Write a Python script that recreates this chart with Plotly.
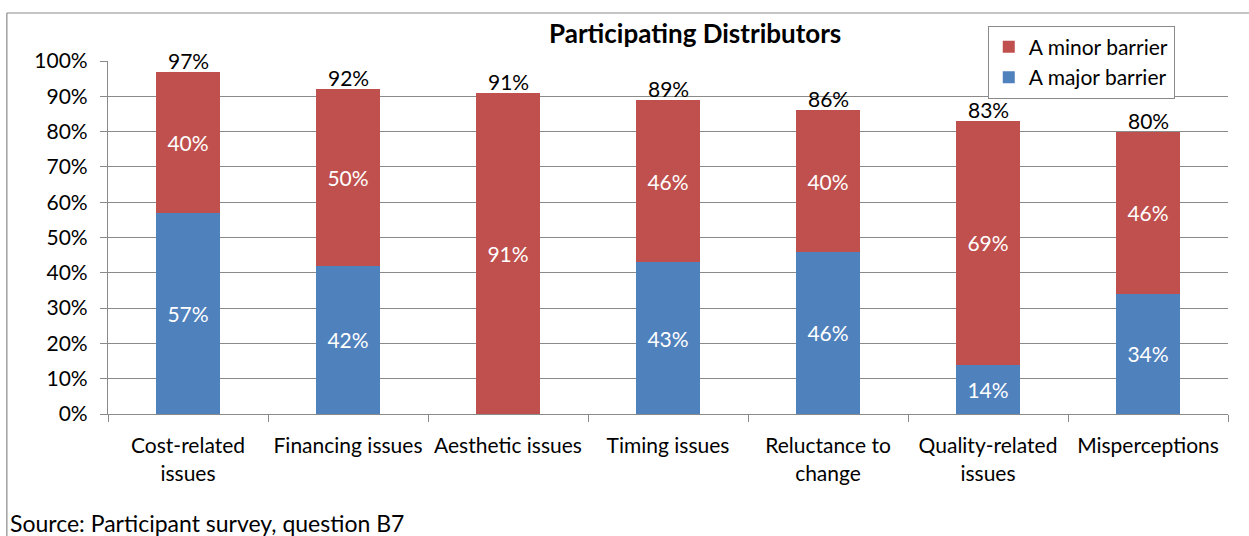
import plotly.graph_objects as go

categories = ["Cost-related<br>issues", "Financing issues", "Aesthetic issues", "Timing issues",
              "Reluctance to<br>change", "Quality-related<br>issues", "Misperceptions"]
major = [57, 42, 0, 43, 46, 14, 34]
minor = [40, 50, 91, 46, 40, 69, 46]
totals = [a + b for a, b in zip(major, minor)]

BLUE = "#4F81BD"
RED = "#C0504D"
GRID = "#8A8A8A"
FONT = "Lato, 'Open Sans', sans-serif"

def seg_text(vals):
    return [f"{v}%" if v > 0 else "" for v in vals]

fig = go.Figure()
fig.add_bar(x=categories, y=major, name="A major barrier", marker_color=BLUE,
            marker_line_width=0, text=seg_text(major), textposition="inside",
            insidetextanchor="middle", textfont=dict(color="white", size=21, family=FONT),
            constraintext="none")
fig.add_bar(x=categories, y=minor, name="A minor barrier", marker_color=RED,
            marker_line_width=0, text=seg_text(minor), textposition="inside",
            insidetextanchor="middle", textfont=dict(color="white", size=21, family=FONT),
            constraintext="none")

for c, t in zip(categories, totals):
    fig.add_annotation(x=c, y=t, text=f"{t}%", showarrow=False, yanchor="bottom",
                       yshift=-3, font=dict(size=21, color="black", family=FONT))

fig.add_annotation(xref="paper", yref="paper", x=0.524, y=1.0, yshift=28,
                   text="<b>Participating Distributors</b>",
                   showarrow=False, xanchor="center", yanchor="middle",
                   font=dict(size=26, color="black", family=FONT))
fig.add_annotation(xref="paper", yref="paper", x=-0.089, y=0, yshift=-109,
                   text="Source: Participant survey, question B7", showarrow=False,
                   xanchor="left", yanchor="middle", font=dict(size=23, color="black", family=FONT))

# frame around the chart
fig.add_shape(type="line", xref="paper", yref="paper", x0=-0.0903, x1=1.05, y0=1.136, y1=1.136,
              line=dict(color=GRID, width=1.2))
fig.add_shape(type="line", xref="paper", yref="paper", x0=-0.0903, x1=-0.0903, y0=1.136, y1=-0.4,
              line=dict(color=GRID, width=1.2))

fig.update_layout(
    width=1249, height=536,
    margin=dict(l=108, r=21, t=61, b=122),
    barmode="stack", bargap=0.606,
    plot_bgcolor="white", paper_bgcolor="white",
    font=dict(family=FONT, size=21, color="black"),
    legend=dict(traceorder="reversed", x=0.7855, y=1.1, xanchor="left", yanchor="top",
                bgcolor="white", bordercolor=GRID, borderwidth=1,
                font=dict(size=21, family=FONT), itemwidth=30, tracegroupgap=0),
    showlegend=True,
)
fig.update_yaxes(range=[0, 100], dtick=10, ticksuffix="%", showgrid=True, gridcolor=GRID,
                 gridwidth=1.2, showline=True, linecolor=GRID, linewidth=1.2,
                 ticks="outside", ticklen=7, tickcolor=GRID, zeroline=False, automargin=False,
                 ticklabelstandoff=8, tickfont=dict(size=21, family=FONT))
fig.update_xaxes(showline=True, linecolor=GRID, linewidth=1.2, ticks="outside",
                 tickson="boundaries", ticklen=7, tickcolor=GRID, showgrid=False,
                 tickangle=0, automargin=False,
                 tickfont=dict(size=21, family=FONT), ticklabelstandoff=13)

fig.write_html("out.html")
